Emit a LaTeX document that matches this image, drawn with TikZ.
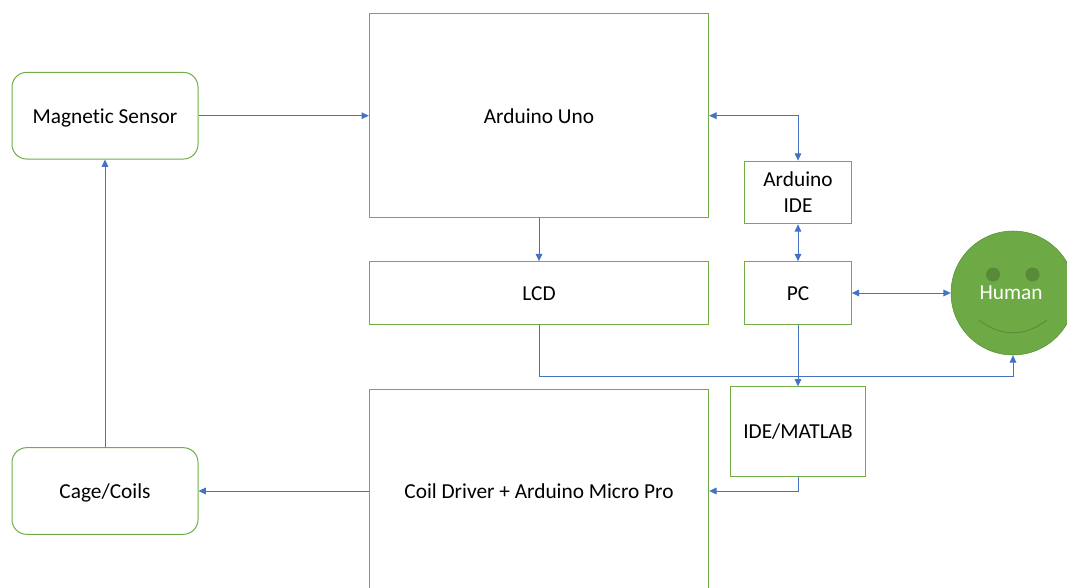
\documentclass[tikz,border=0pt]{standalone}
\usepackage{fontspec}
\setmainfont{Carlito}[Ligatures=NoCommon]
\usetikzlibrary{arrows.meta, positioning}
\definecolor{boxgreen}{HTML}{70AD47}
\definecolor{linkblue}{HTML}{4472C4}
\definecolor{facegreen}{HTML}{6DA944}
\definecolor{eyegreen}{HTML}{588A37}
\tikzstyle{block} = [rectangle, draw=boxgreen, line width=0.75pt, fill=white, text=black, inner sep=0pt, align=center, text height=14.5pt, text depth=3.5pt, font=\fontsize{16}{19.5}\selectfont]
\tikzstyle{roundblock} = [block, rounded corners=11pt, minimum width=139.5pt, minimum height=65pt]
\tikzstyle{arrow} = [draw=linkblue, line width=0.75pt, -{Triangle[length=5.5pt,width=5pt]}]
\tikzstyle{twoway} = [arrow, {Triangle[length=5.5pt,width=5pt]}-{Triangle[length=5.5pt,width=5pt]}]

\begin{document}
\begin{tikzpicture}[x=0.75pt, y=-0.75pt]

    \useasboundingbox (0,0) rectangle (1067,588);
    \clip (0,0) rectangle (1067,588);

    \node (sensor) [roundblock] at (105,115.7) {Magnetic Sensor};
    \node (coils) [roundblock] at (105,491) {Cage/Coils};
    \node (uno) [block, minimum width=254.5pt, minimum height=153pt] at (539,115.7) {Arduino Uno};
    \node (lcd) [block, minimum width=254.5pt, minimum height=47pt] at (539,293) {LCD};
    \node (driver) [block, minimum width=254.5pt, minimum height=153pt] at (539,491) {Coil Driver + Arduino Micro Pro};
    \node (arduinoide) [block, minimum width=80pt, minimum height=47pt, text width=70pt, text height=, text depth=] at (798,192.5) {Arduino\\IDE};
    \node (pc) [block, minimum width=80pt, minimum height=47pt] at (798,293) {PC};
    \node (matlab) [block, minimum width=101pt, minimum height=67pt] at (798,431.5) {IDE/MATLAB};

    \node (human) [circle, draw=facegreen!85!black, fill=facegreen, minimum size=93pt, inner sep=0pt] at (1013,293) {};
    \node (humanlabel) [text=white, font=\fontsize{16}{19}\selectfont] at (1011,293) {Human};
    \node (lefteye) [circle, fill=eyegreen, minimum size=10.5pt, inner sep=0pt] at (993,274.5) {};
    \node (righteye) [circle, fill=eyegreen, minimum size=10.5pt, inner sep=0pt] at (1032.5,274.5) {};
    \coordinate (smileleft) at (979,320);
    \coordinate (smileright) at (1047,320);
    \draw [eyegreen, line width=0.6pt] (smileleft) .. controls (1001,337) and (1025,337) .. (smileright);

    \coordinate (bend) at (539,376.5);

    \draw [arrow] (sensor) -- (uno);
    \draw [arrow] (uno) -- (lcd);
    \draw [twoway] (uno.east) -| (arduinoide);
    \draw [twoway] (arduinoide) -- (pc);
    \draw [twoway] (pc) -- (human);
    \draw [arrow] (lcd) -- (bend) -| (human);
    \draw [arrow] (pc) -- (matlab);
    \draw [arrow] (matlab) |- (driver);
    \draw [arrow] (driver) -- (coils);
    \draw [arrow] (coils) -- (sensor);

\end{tikzpicture}
\end{document}
